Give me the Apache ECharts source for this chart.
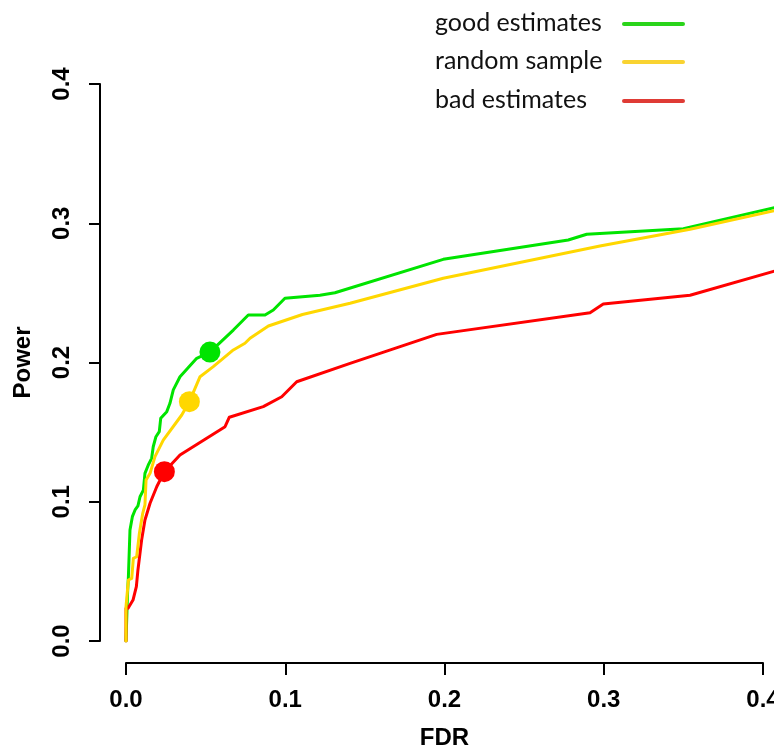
<!DOCTYPE html>
<html>
<head>
<meta charset="utf-8">
<title>Power vs FDR</title>
<script src="https://cdn.jsdelivr.net/npm/echarts@6/dist/echarts.min.js"></script>
<style>
  html, body { margin: 0; padding: 0; background: #ffffff; }
  #chart { width: 774px; height: 755px; }
</style>
</head>
<body>
<div id="chart"></div>
<script>
// Power against FDR for three ways of choosing estimates
var seriesNames = ['good estimates', 'random sample', 'bad estimates'];

var goodFdr = [0, 0.001, 0.0015, 0.0025, 0.0035, 0.004, 0.0057, 0.0075, 0.0088, 0.0109, 0.0119, 0.014, 0.0161, 0.0171, 0.0188, 0.0209, 0.0218, 0.0256, 0.0276, 0.0297, 0.0339, 0.0444, 0.0527, 0.0674, 0.0768, 0.0873, 0.0925, 0.0998, 0.1218, 0.1312, 0.1992, 0.2777, 0.2893, 0.35, 0.41];
var goodPower = [0, 0.035, 0.046, 0.0797, 0.0805, 0.0893, 0.0941, 0.097, 0.1036, 0.1084, 0.1204, 0.1264, 0.1312, 0.1395, 0.1467, 0.1503, 0.1599, 0.1647, 0.1707, 0.1803, 0.1898, 0.203, 0.2075, 0.2233, 0.2341, 0.2341, 0.2377, 0.2461, 0.2483, 0.2501, 0.2741, 0.288, 0.2921, 0.2961, 0.312];

var randomFdr = [0, 0, 0.0015, 0.0036, 0.0046, 0.0067, 0.0084, 0.0105, 0.0119, 0.0126, 0.0151, 0.0182, 0.0234, 0.035, 0.0398, 0.0465, 0.0548, 0.0674, 0.0747, 0.0779, 0.0894, 0.1108, 0.1407, 0.1992, 0.2976, 0.3542, 0.41];
var randomPower = [0, 0.0246, 0.0438, 0.045, 0.0594, 0.0605, 0.0773, 0.0917, 0.0977, 0.1156, 0.1204, 0.1324, 0.1443, 0.1623, 0.1719, 0.1898, 0.197, 0.209, 0.2138, 0.2174, 0.2262, 0.2345, 0.2425, 0.2605, 0.2837, 0.2957, 0.3098];

var badFdr = [0, 0, 0.0013, 0.0044, 0.0065, 0.0075, 0.0098, 0.0119, 0.0151, 0.0193, 0.0241, 0.0339, 0.0622, 0.0649, 0.0862, 0.0978, 0.1072, 0.1407, 0.1951, 0.2914, 0.2997, 0.3542, 0.41];
var badPower = [0, 0.0235, 0.0235, 0.0294, 0.039, 0.051, 0.0725, 0.0869, 0.0989, 0.1108, 0.1216, 0.1336, 0.1539, 0.1607, 0.1683, 0.1754, 0.1862, 0.1994, 0.2202, 0.2358, 0.242, 0.2483, 0.2665];

// highlighted operating point on each curve
var markFdr = [0.0527, 0.0398, 0.0241];
var markPower = [0.2075, 0.1719, 0.1216];

var xTickLabels = ['0.0', '0.1', '0.2', '0.3', '0.4'];
var yTickLabels = ['0.0', '0.1', '0.2', '0.3', '0.4'];

// the curves run on past the last labelled tick, to the right edge
var fdrShownMax = 0.41;

var lineColors = ['#00e400', '#ffd700', '#ff0000'];
var keyColors = ['#2ad41a', '#f9d331', '#df3b35'];

function pairs(xs, ys) {
  return xs.map(function (x, i) { return [x, ys[i]]; });
}

var curves = [pairs(goodFdr, goodPower), pairs(randomFdr, randomPower), pairs(badFdr, badPower)];
var drawOrder = [0, 2, 1];

var series = drawOrder.map(function (k) {
  return {
    name: seriesNames[k],
    type: 'line',
    xAxisIndex: 0,
    yAxisIndex: 0,
    data: curves[k],
    showSymbol: false,
    silent: true,
    lineStyle: { color: lineColors[k], width: 3, cap: 'round', join: 'round' },
    z: 2
  };
});
[0, 1, 2].forEach(function (k) {
  series.push({
    type: 'scatter',
    xAxisIndex: 0,
    yAxisIndex: 0,
    data: [[markFdr[k], markPower[k]]],
    symbol: 'circle',
    symbolSize: 21,
    clip: false,
    silent: true,
    itemStyle: { color: lineColors[k], opacity: 1 },
    z: 3
  });
});

// key in the top-right corner: label on the left, coloured stroke on the right
var keyGraphics = [];
var keyRows = [24, 62, 101];
seriesNames.forEach(function (name, k) {
  keyGraphics.push({
    type: 'text',
    left: 435,
    top: keyRows[k] - 14,
    style: { text: name, font: '25px Lato', fill: '#111111' }
  });
  keyGraphics.push({
    type: 'line',
    shape: { x1: 624, y1: keyRows[k], x2: 683, y2: keyRows[k] },
    style: { stroke: keyColors[k], lineWidth: 4, lineCap: 'round' }
  });
});

var axisFont = 'Liberation Sans';
var plotLeft = 126, plotTop = 84, plotHeight = 557, unitWidth = 637 / 0.4;

var chart = echarts.init(document.getElementById('chart'), null, { renderer: 'canvas' });
chart.setOption({
  animation: false,
  backgroundColor: '#ffffff',
  grid: [
    // data area, reaching past the 0.4 tick
    { left: plotLeft, top: plotTop, width: unitWidth * fdrShownMax, height: plotHeight, containLabel: false, outerBoundsMode: 'none' },
    // frame for the drawn axes, 0 to 0.4
    { left: plotLeft, top: plotTop, width: unitWidth * 0.4, height: plotHeight, containLabel: false, outerBoundsMode: 'none' }
  ],
  xAxis: [
    { gridIndex: 0, type: 'value', min: 0, max: fdrShownMax, show: false },
    {
      gridIndex: 1,
      type: 'value',
      min: 0, max: 0.4, interval: 0.1,
      position: 'bottom',
      offset: 22,
      name: 'FDR',
      nameLocation: 'middle',
      nameGap: 63,
      nameTextStyle: { fontFamily: axisFont, fontWeight: 'bold', fontSize: 24, color: '#000' },
      axisLine: { show: true, onZero: false, lineStyle: { color: '#000', width: 2 } },
      axisTick: { show: true, length: 12, lineStyle: { color: '#000', width: 2 } },
      axisLabel: {
        margin: 25,
        fontFamily: axisFont, fontWeight: 'bold', fontSize: 24, color: '#000',
        formatter: function (v, i) { return xTickLabels[i]; }
      },
      splitLine: { show: false }
    }
  ],
  yAxis: [
    { gridIndex: 0, type: 'value', min: 0, max: 0.4, show: false },
    {
      gridIndex: 1,
      type: 'value',
      min: 0, max: 0.4, interval: 0.1,
      position: 'left',
      offset: 26,
      name: 'Power',
      nameLocation: 'middle',
      nameGap: 65,
      nameRotate: 90,
      nameTextStyle: { fontFamily: axisFont, fontWeight: 'bold', fontSize: 24, color: '#000' },
      axisLine: { show: true, onZero: false, lineStyle: { color: '#000', width: 2 } },
      axisTick: { show: true, length: 11, lineStyle: { color: '#000', width: 2 } },
      axisLabel: {
        margin: 26,
        rotate: 90,
        fontFamily: axisFont, fontWeight: 'bold', fontSize: 24, color: '#000',
        formatter: function (v, i) { return yTickLabels[i]; }
      },
      splitLine: { show: false }
    }
  ],
  graphic: keyGraphics,
  series: series
});
</script>
</body>
</html>
